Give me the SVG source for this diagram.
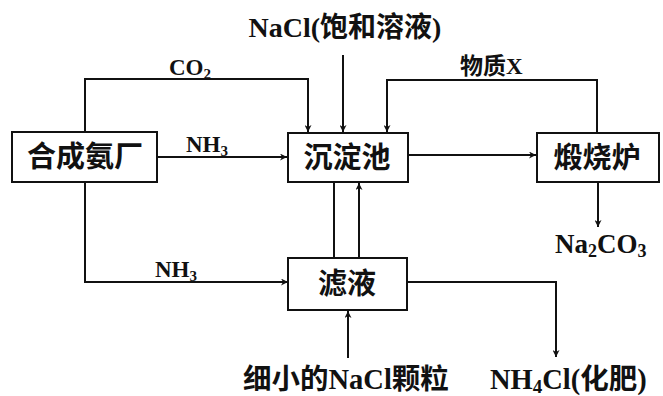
<svg xmlns="http://www.w3.org/2000/svg" width="663" height="396" viewBox="0 0 663 396">
<defs>
<style>
.box{fill:#fff;stroke:#111;stroke-width:2}
.ln{fill:none;stroke:#111;stroke-width:2}
.t{font-family:"Liberation Serif","Noto Sans CJK SC",serif;font-weight:bold;fill:#111}
.cj{font-family:"Noto Sans CJK SC",sans-serif;font-weight:bold;fill:#111}
</style>
<marker id="ah" viewBox="0 0 10 10" refX="10" refY="5" markerWidth="7" markerHeight="7" markerUnits="userSpaceOnUse" orient="auto">
<path d="M0,0 L10,5 L0,10 L3,5 Z" fill="#111"/>
</marker>
</defs>
<rect width="663" height="396" fill="#fff"/>
<g id="connectors">
<path class="ln" d="M85,131 V79 H308 V132" marker-end="url(#ah)"/>
<path class="ln" d="M343,55 V132" marker-end="url(#ah)"/>
<path class="ln" d="M597,133 V80 H387 V132" marker-end="url(#ah)"/>
<path class="ln" d="M157,157 H287" marker-end="url(#ah)"/>
<path class="ln" d="M408,155 H536" marker-end="url(#ah)"/>
<path class="ln" d="M85,182 V282 H288" marker-end="url(#ah)"/>
<path class="ln" d="M334,182 V258"/>
<path class="ln" d="M359,258 V183" marker-end="url(#ah)"/>
<path class="ln" d="M598,182 V227" marker-end="url(#ah)"/>
<path class="ln" d="M407,282 H556 V357" marker-end="url(#ah)"/>
<path class="ln" d="M348,358 V311" marker-end="url(#ah)"/>
</g>
<g id="hecheng">
<rect class="box" x="12" y="132" width="145" height="50"/>
<text class="cj" x="85" y="167" font-size="29" text-anchor="middle">合成氨厂</text>
</g>
<g id="chendian">
<rect class="box" x="288" y="133" width="120" height="49"/>
<text class="cj" x="347" y="168" font-size="29" text-anchor="middle">沉淀池</text>
</g>
<g id="duanshao">
<rect class="box" x="537" y="133" width="122" height="49"/>
<text class="cj" x="597" y="168" font-size="29" text-anchor="middle">煅烧炉</text>
</g>
<g id="lvye">
<rect class="box" x="288" y="258" width="119" height="52"/>
<text class="cj" x="347" y="294" font-size="29" text-anchor="middle">滤液</text>
</g>
<g id="labels">
<text class="t" x="345" y="37" font-size="28" text-anchor="middle">NaCl(饱和溶液)</text>
<text class="t" x="169" y="75" font-size="23">CO<tspan font-size="15" dy="4">2</tspan></text>
<text class="t" x="186" y="152" font-size="23">NH<tspan font-size="15" dy="4">3</tspan></text>
<text class="t" x="460" y="74" font-size="23">物质X</text>
<text class="t" x="155" y="277" font-size="23">NH<tspan font-size="15" dy="4">3</tspan></text>
<text class="t" x="555" y="253" font-size="27">Na<tspan font-size="18" dy="4">2</tspan><tspan dy="-4">CO</tspan><tspan font-size="18" dy="4">3</tspan></text>
<text class="t" x="243" y="389" font-size="28.5">细小的NaCl颗粒</text>
<text class="t" x="490" y="389" font-size="28.5">NH<tspan font-size="19" dy="4">4</tspan><tspan dy="-4">Cl(化肥)</tspan></text>
</g>
</svg>
